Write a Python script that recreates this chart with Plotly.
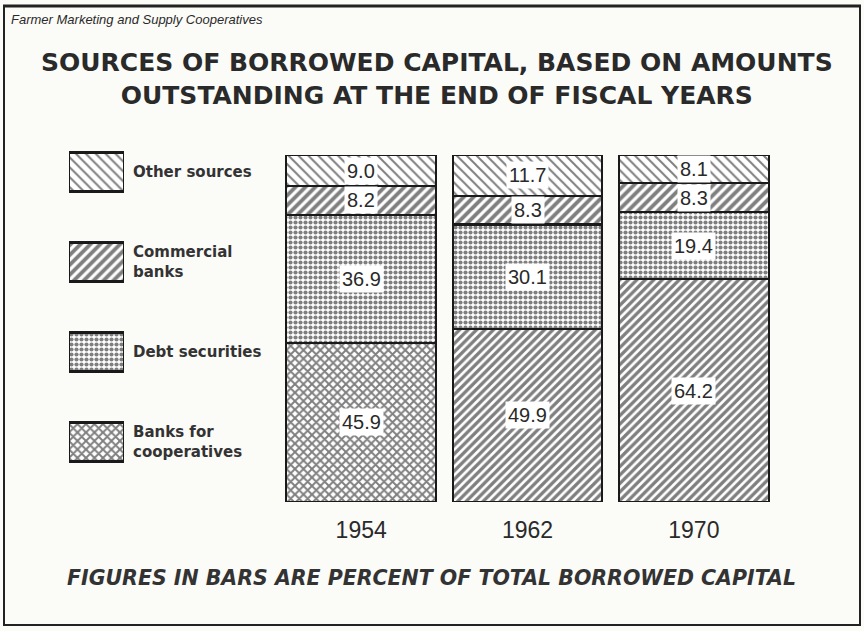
import plotly.graph_objects as go

# ---- data ----
years = ["1954", "1962", "1970"]
series_names = ["Banks for cooperatives", "Debt securities", "Commercial banks", "Other sources"]
banks_for_coops = [45.9, 49.9, 64.2]
debt_securities = [36.9, 30.1, 19.4]
commercial_banks = [8.2, 8.3, 8.3]
other_sources = [9.0, 11.7, 8.1]
legend_labels = ["Other sources", "Commercial<br>banks", "Debt securities", "Banks for<br>cooperatives"]

W, H = 864, 631
INK = "#2a2a2a"
PAPER = "#fbfbf8"

def px(x):
    return x / W

def py(y):
    return 1 - y / H

values = [banks_for_coops, debt_securities, commercial_banks, other_sources]
patterns = [
    dict(shape=["x", "/", "/"], size=6, solidity=0.55),
    dict(shape=".", size=5, solidity=0.55),
    dict(shape="/", size=7, solidity=0.55),
    dict(shape="\\", size=7, solidity=0.28),
]

fig = go.Figure()
for name, vals, pat in zip(series_names, values, patterns):
    fig.add_trace(go.Bar(
        x=years, y=vals, name=name, width=0.9,
        marker=dict(color="white", line=dict(color="#1a1a1a", width=2.2),
                    pattern=dict(fgcolor="#000000", bgcolor="white", fillmode="overlay", **pat)),
        showlegend=False, hoverinfo="skip",
    ))

# value labels inside the bars (centered in each segment)
for i, yr in enumerate(years):
    base = 0
    for vals in values:
        v = vals[i]
        fig.add_annotation(x=i, y=base + v / 2, xref="x", yref="y", text=f"{v:.1f}",
                           showarrow=False, bgcolor="white", borderpad=2,
                           font=dict(family="Liberation Sans, Arial", size=20, color=INK))
        base += v

# custom legend as swatches on a second axis pair
legend_order = ["Other sources", "Commercial banks", "Debt securities", "Banks for cooperatives"]
for nm, lab in zip(legend_order, legend_labels):
    idx = series_names.index(nm)
    pat = dict(patterns[idx])
    if isinstance(pat["shape"], list):
        pat["shape"] = pat["shape"][0]
    fig.add_trace(go.Bar(
        y=[nm], x=[1], orientation="h", width=0.43, xaxis="x2", yaxis="y2",
        marker=dict(color="white", line=dict(color="#1a1a1a", width=2.5),
                    pattern=dict(fgcolor="#000000", bgcolor="white", fillmode="overlay", **pat)),
        showlegend=False, hoverinfo="skip",
    ))
    fig.add_annotation(x=px(131), y=nm, xref="paper", yref="y2", text=lab, xanchor="left",
                       align="left", showarrow=False,
                       font=dict(family="DejaVu Sans", size=15, color="#333333", weight="bold"))

fig.update_layout(
    width=W, height=H,
    margin=dict(l=0, r=0, t=0, b=0),
    paper_bgcolor=PAPER, plot_bgcolor=PAPER,
    barmode="stack", bargap=0.1,
    xaxis=dict(type="category", domain=[px(278), px(777)], range=[-0.5, 2.5], showgrid=False,
               zeroline=False, showline=False, ticks="", ticklabelstandoff=12,
               tickfont=dict(family="Liberation Sans, Arial", size=23, color=INK)),
    yaxis=dict(domain=[py(502), py(155)], range=[0, 100], visible=False),
    xaxis2=dict(domain=[px(69), px(124)], range=[0, 1], visible=False, anchor="y2"),
    yaxis2=dict(type="category", domain=[py(487), py(127)], visible=False, anchor="x2",
                categoryorder="array", categoryarray=legend_order[::-1]),
)

fig.add_annotation(x=px(437), y=py(79), xref="paper", yref="paper", xanchor="center", yanchor="middle",
                   text="SOURCES OF BORROWED CAPITAL, BASED ON AMOUNTS<br>OUTSTANDING AT THE END OF FISCAL YEARS",
                   showarrow=False,
                   font=dict(family="DejaVu Sans", size=25, color=INK, weight="bold"))
fig.add_annotation(x=px(9), y=py(20), xref="paper", yref="paper", xanchor="left", yanchor="middle",
                   text="Farmer Marketing and Supply Cooperatives", showarrow=False,
                   font=dict(family="Liberation Sans Narrow, Liberation Sans, Arial", size=13,
                             color=INK, style="italic"))
fig.add_annotation(x=px(431), y=py(578), xref="paper", yref="paper", xanchor="center", yanchor="middle",
                   text="FIGURES IN BARS ARE PERCENT OF TOTAL BORROWED CAPITAL", showarrow=False,
                   font=dict(family="DejaVu Sans", size=20.5, color="#333333", style="italic", weight="bold"))

# page frame
frame = dict(color="#222", width=2)
fig.add_shape(type="line", xref="paper", yref="paper", x0=px(3), x1=px(861), y0=py(6), y1=py(6),
              line=dict(color="#222", width=3))
fig.add_shape(type="line", xref="paper", yref="paper", x0=px(4), x1=px(4), y0=py(6), y1=py(625), line=frame)
fig.add_shape(type="line", xref="paper", yref="paper", x0=px(860), x1=px(860), y0=py(6), y1=py(625), line=frame)
fig.add_shape(type="line", xref="paper", yref="paper", x0=px(3), x1=px(861), y0=py(625), y1=py(625), line=frame)

fig.write_html("out.html", config={"displayModeBar": False},
               post_script="document.body.style.margin='0';document.body.style.overflow='hidden';")
